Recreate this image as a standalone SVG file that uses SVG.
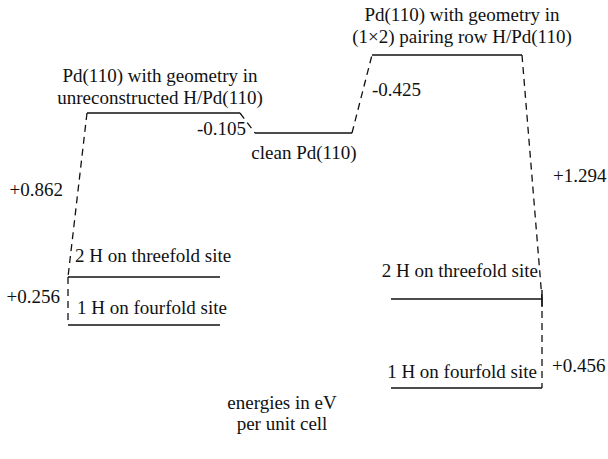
<svg xmlns="http://www.w3.org/2000/svg" width="608" height="459" viewBox="0 0 608 459">
<style>
text{font-family:"Liberation Serif","Times New Roman",serif;font-size:19px;fill:#111}
.lv{stroke:#111;stroke-width:1.4;fill:none}
.dash{stroke:#111;stroke-width:1.3;fill:none;stroke-dasharray:7 5}
.m{text-anchor:middle}
.e{text-anchor:end}
</style>
<rect width="608" height="459" fill="#fff"/>
<g id="unrecon">
<line class="lv" x1="87" y1="113" x2="240" y2="113"/>
<text class="m" x="160" y="82">Pd(110) with geometry in</text>
<text class="m" x="160" y="104">unreconstructed H/Pd(110)</text>
</g>
<g id="clean">
<line class="lv" x1="255" y1="133" x2="352" y2="133"/>
<text class="m" x="304" y="159">clean Pd(110)</text>
</g>
<g id="pairing">
<line class="lv" x1="372" y1="55" x2="522" y2="55"/>
<text class="m" x="462" y="21">Pd(110) with geometry in</text>
<text class="m" x="462" y="43">(1×2) pairing row H/Pd(110)</text>
</g>
<g id="left2H">
<line class="lv" x1="68" y1="277" x2="220" y2="277"/>
<text x="75" y="262">2 H on threefold site</text>
</g>
<g id="left1H">
<line class="lv" x1="68" y1="325" x2="220" y2="325"/>
<text x="77" y="314">1 H on fourfold site</text>
</g>
<g id="right2H">
<line class="lv" x1="391" y1="299" x2="542" y2="299"/>
<line class="lv" x1="542" y1="290" x2="542" y2="307"/>
<text class="e" x="538" y="277">2 H on threefold site</text>
</g>
<g id="right1H">
<line class="lv" x1="391" y1="388" x2="542" y2="388"/>
<text class="e" x="537" y="378">1 H on fourfold site</text>
</g>
<g id="connectors">
<path class="dash" d="M87,113 L68,277"/>
<path class="dash" d="M68,277 L68,325"/>
<path class="dash" d="M240,113 L255,133"/>
<path class="dash" d="M352,133 L372,55"/>
<path class="dash" d="M522,55 L542,299"/>
<path class="dash" d="M542,299 L542,388"/>
</g>
<g id="labels">
<text class="e" x="63" y="196">+0.862</text>
<text class="e" x="60" y="303">+0.256</text>
<text class="e" x="246" y="135">-0.105</text>
<text x="372" y="96">-0.425</text>
<text x="553" y="182">+1.294</text>
<text x="552" y="372">+0.456</text>
<text class="m" x="282" y="409">energies in eV</text>
<text class="m" x="282" y="430">per unit cell</text>
</g>
</svg>
